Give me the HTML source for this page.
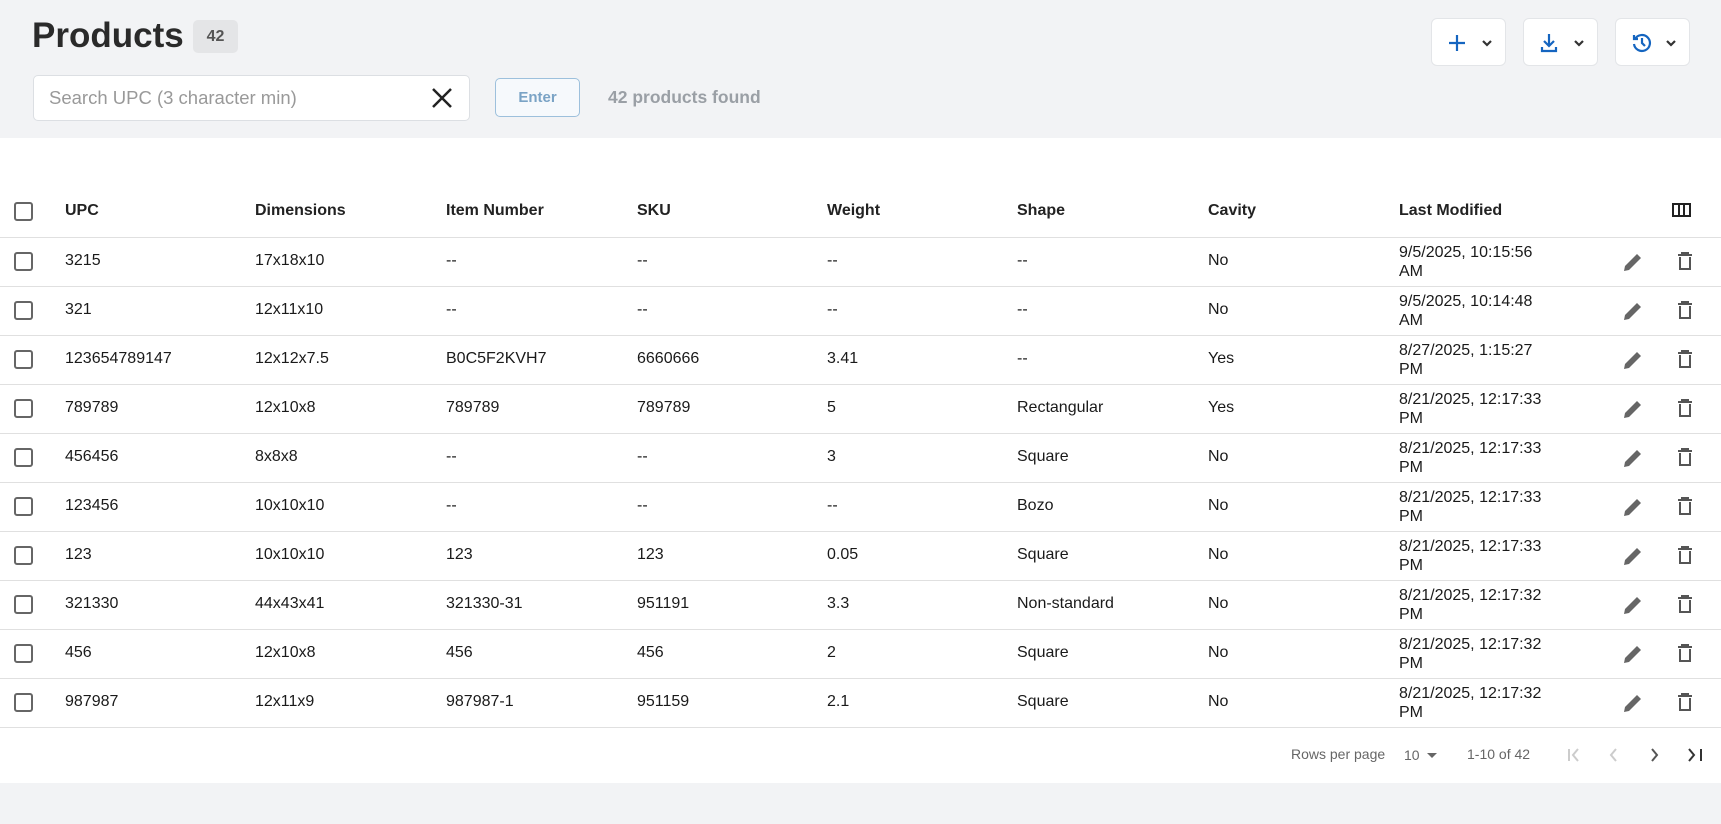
<!DOCTYPE html>
<html><head><meta charset="utf-8"><style>
*{margin:0;padding:0;box-sizing:border-box}
body{width:1721px;height:824px;background:#f2f3f5;font-family:"Liberation Sans",sans-serif;color:#222;position:relative;overflow:hidden}
.a{position:absolute;white-space:nowrap}
.white{position:absolute;left:0;top:138px;width:1721px;height:645px;background:#fff}
.btn{position:absolute;top:18px;width:75px;height:48px;background:#fff;border:1px solid #e3e5e8;border-radius:6px}
.hl{position:absolute;left:0;width:1721px;height:1px;background:#e0e0e0}
.cb{position:absolute;left:14px;width:19px;height:19px;border:2px solid #666;border-radius:3px}
.h{font-weight:bold;font-size:16px;color:#222}
.t{font-size:16px;color:#1a1a1a}
</style></head><body>
<div class="a" style="left:32px;top:16px;font-size:35px;font-weight:bold;color:#2a2a2a">Products</div>
<div class="a" style="left:193px;top:20px;width:45px;height:33px;background:#e4e5e7;border-radius:5px;font-size:16px;font-weight:bold;color:#555;text-align:center;line-height:33px">42</div>
<div class="a" style="left:33px;top:75px;width:437px;height:46px;background:#fff;border:1px solid #dcdfe3;border-radius:5px"></div>
<div class="a" style="left:49px;top:87px;font-size:18.5px;color:#999">Search UPC (3 character min)</div>
<svg class="a" style="left:431px;top:87px" width="22" height="22"><path d="M2 2L20 20M20 2L2 20" stroke="#222" stroke-width="2.5"/></svg>
<div class="a" style="left:495px;top:78px;width:85px;height:39px;border:1px solid #9dc0dc;border-radius:5px;background:#f6f9fc;font-size:15px;font-weight:bold;color:#7aa3c5;text-align:center;line-height:37px">Enter</div>
<div class="a" style="left:608px;top:87px;font-size:17.5px;font-weight:bold;color:#9a9fa5">42 products found</div>
<div class="btn" style="left:1431px"><svg class="a" style="left:16px;top:14px" width="50" height="20"><path d="M9 2V18M1 10H17" stroke="#1565c0" stroke-width="2.2"/><path d="M35 8L39 12L43 8" stroke="#333" stroke-width="2.2" fill="none"/></svg></div>
<div class="btn" style="left:1523px"><svg class="a" style="left:16px;top:14px" width="50" height="20"><path d="M9 1V13M4 8L9 13L14 8M2 14V18H16V14" stroke="#1565c0" stroke-width="2.2" fill="none"/><path d="M35 8L39 12L43 8" stroke="#333" stroke-width="2.2" fill="none"/></svg></div>
<div class="btn" style="left:1615px"><svg class="a" style="left:16px;top:14px" width="50" height="20"><path d="M3 6A8 8 0 1 1 2 11M2 2V6H6M10 5V10L13 13" stroke="#1565c0" stroke-width="2.2" fill="none"/><path d="M35 8L39 12L43 8" stroke="#333" stroke-width="2.2" fill="none"/></svg></div>
<div class="white"></div>
<div class="cb" style="top:202px"></div>
<div class="a h" style="left:65px;top:202px">UPC</div>
<div class="a h" style="left:255px;top:202px">Dimensions</div>
<div class="a h" style="left:446px;top:202px">Item Number</div>
<div class="a h" style="left:637px;top:202px">SKU</div>
<div class="a h" style="left:827px;top:202px">Weight</div>
<div class="a h" style="left:1017px;top:202px">Shape</div>
<div class="a h" style="left:1208px;top:202px">Cavity</div>
<div class="a h" style="left:1399px;top:202px">Last Modified</div>
<svg class="a" style="left:1672px;top:203px" width="19" height="15"><rect x="1" y="1" width="17" height="12" fill="none" stroke="#222" stroke-width="2"/><path d="M7 1V13M12 1V13" stroke="#222" stroke-width="2"/></svg>
<div class="hl" style="top:237px"></div>
<div id="rows"></div>
<script>
const d=[["3215","17x18x10","--","--","--","--","No","9/5/2025, 10:15:56","AM"],
["321","12x11x10","--","--","--","--","No","9/5/2025, 10:14:48","AM"],
["123654789147","12x12x7.5","B0C5F2KVH7","6660666","3.41","--","Yes","8/27/2025, 1:15:27","PM"],
["789789","12x10x8","789789","789789","5","Rectangular","Yes","8/21/2025, 12:17:33","PM"],
["456456","8x8x8","--","--","3","Square","No","8/21/2025, 12:17:33","PM"],
["123456","10x10x10","--","--","--","Bozo","No","8/21/2025, 12:17:33","PM"],
["123","10x10x10","123","123","0.05","Square","No","8/21/2025, 12:17:33","PM"],
["321330","44x43x41","321330-31","951191","3.3","Non-standard","No","8/21/2025, 12:17:32","PM"],
["456","12x10x8","456","456","2","Square","No","8/21/2025, 12:17:32","PM"],
["987987","12x11x9","987987-1","951159","2.1","Square","No","8/21/2025, 12:17:32","PM"]];
let h="";const xs=[65,255,446,637,827,1017,1208];
d.forEach((r,i)=>{const t=237+49*i;const y=t+15;
h+=`<div class="cb" style="top:${t+15}px"></div>`;
for(let j=0;j<7;j++){h+=`<div class="a t" style="left:${xs[j]}px;top:${y}px">${r[j]}</div>`;}
h+=`<div class="a t" style="left:1399px;top:${t+6}px;line-height:19px">${r[7]}<br>${r[8]}</div>`;
h+=`<svg class="a" style="left:1622px;top:${t+14}px" width="22" height="22"><path d="M2 20L3 15L15 3L19 7L7 19Z" fill="#666"/></svg>`;
h+=`<svg class="a" style="left:1677px;top:${t+14}px" width="16" height="20"><path d="M1 4H15M5 4V2H11V4M3 6V18H13V6" stroke="#555" stroke-width="2" fill="none"/></svg>`;
h+=`<div class="hl" style="top:${t+49}px"></div>`;});
document.getElementById("rows").innerHTML=h;
</script>
<div class="a" style="left:1291px;top:746px;font-size:14px;color:#666">Rows per page</div>
<div class="a" style="left:1404px;top:747px;font-size:14px;color:#666">10</div>
<svg class="a" style="left:1426px;top:752px" width="12" height="8"><path d="M1 1H11L6 6Z" fill="#666"/></svg>
<div class="a" style="left:1467px;top:746px;font-size:14px;color:#666">1-10 of 42</div>
<svg class="a" style="left:1566px;top:746px" width="150" height="18"><path d="M3 3V15M12 3L7 9L12 15" stroke="#ccc" stroke-width="2" fill="none"/><path d="M50 3L45 9L50 15" stroke="#ccc" stroke-width="2" fill="none"/><path d="M86 3L91 9L86 15" stroke="#555" stroke-width="2" fill="none"/><path d="M123 3L128 9L123 15M135 3V15" stroke="#333" stroke-width="2" fill="none"/></svg>
</body></html>
